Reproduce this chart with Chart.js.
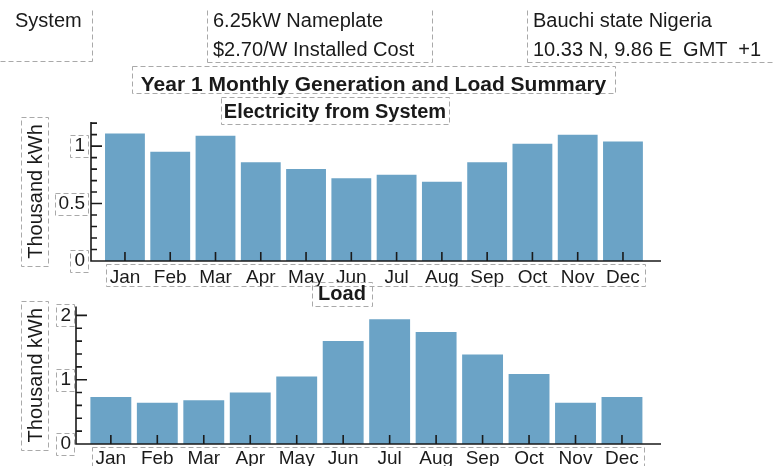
<!DOCTYPE html>
<html>
<head>
<meta charset="utf-8">
<script src="https://cdn.jsdelivr.net/npm/chart.js@4.4.0/dist/chart.umd.min.js"></script>
<style>
  body { margin: 0; background: #fff; }
  #page { position: relative; width: 775px; height: 466px; overflow: hidden;
          font-family: "Liberation Sans", Arial, sans-serif; color: #1a1a1a; }
  .t { position: absolute; white-space: pre; font-size: 20px; line-height: 20px; }
  .b { font-weight: bold; text-align: center; }
  canvas { position: absolute; left: 0; }
</style>
</head>
<body>
<div id="page">
  <canvas id="genChart" width="775" height="195" style="top:95px"></canvas>
  <canvas id="loadChart" width="775" height="176" style="top:290px"></canvas>
  <canvas id="frames" width="775" height="466" style="top:0"></canvas>

  <div class="t" style="left:15px; top:10px">System</div>
  <div class="t" style="left:213px; top:10px">6.25kW Nameplate</div>
  <div class="t" style="left:213px; top:39px">$2.70/W Installed Cost</div>
  <div class="t" style="left:533px; top:10px">Bauchi state Nigeria</div>
  <div class="t" style="left:533px; top:39px">10.33 N, 9.86 E  GMT  +1</div>
  <div class="t b" style="left:132px; width:483px; top:73px; font-size:21px; line-height:21px">Year 1 Monthly Generation and Load Summary</div>
  <div class="t b" style="left:221px; width:228px; top:101px">Electricity from System</div>
  <div class="t b" style="left:312px; width:60px; top:283px">Load</div>
</div>
<script>
// data (thousand kWh)
const months = ["Jan", "Feb", "Mar", "Apr", "May", "Jun", "Jul", "Aug", "Sep", "Oct", "Nov", "Dec"];
const generation = [1.11, 0.95, 1.09, 0.86, 0.80, 0.72, 0.75, 0.69, 0.86, 1.02, 1.10, 1.04];
const load = [0.73, 0.64, 0.68, 0.80, 1.05, 1.60, 1.94, 1.74, 1.39, 1.09, 0.64, 0.73];
const genTicks = [0, 0.5, 1];
const loadTicks = [0, 1, 2];

const FONT = '"Liberation Sans", Arial, sans-serif';
const BAR = '#6ba3c6';
const INK = '#1a1a1a';
const DASH = '#a9a9a9';

Chart.defaults.font.family = FONT;
Chart.defaults.color = INK;

// axis lines, inward tick marks and the dashed label frames
const axisDeco = {
  id: 'axisDeco',
  afterDraw(chart, args, o) {
    const ctx = chart.ctx;
    const a = chart.chartArea;
    const x = chart.scales.x, y = chart.scales.y;
    ctx.save();
    ctx.strokeStyle = INK;
    ctx.lineWidth = 1.6;
    ctx.beginPath();
    ctx.moveTo(a.left, y.getPixelForValue(y.max));
    ctx.lineTo(a.left, a.bottom);
    ctx.lineTo(a.right, a.bottom);
    for (let v = 0; v <= o.minorMax + 1e-9; v += o.minorStep) {
      const py = y.getPixelForValue(v);
      const major = o.majors.some(m => Math.abs(m - v) < 1e-6);
      ctx.moveTo(a.left, py);
      ctx.lineTo(a.left + (major ? 11 : 6), py);
    }
    months.forEach((m, i) => {
      const px = x.getPixelForValue(i);
      ctx.moveTo(px, a.bottom);
      ctx.lineTo(px, a.bottom - 9);
    });
    ctx.stroke();

    ctx.setLineDash([5, 3]);
    ctx.strokeStyle = DASH;
    ctx.lineWidth = 1;
    ctx.font = '19px ' + FONT;
    y.ticks.forEach(t => {
      const w = ctx.measureText(String(t.value)).width;
      const py = y.getPixelForValue(t.value);
      const r = a.left - o.yPad;
      ctx.strokeRect(Math.round(r - w - 4) + 0.5, Math.round(py - 11) + 0.5, Math.round(w + 7), 22);
    });
    const wJan = ctx.measureText(months[0]).width;
    const wDec = ctx.measureText(months[11]).width;
    const l = x.getPixelForValue(0) - wJan / 2 - 4;
    const r = x.getPixelForValue(11) + wDec / 2 + 5;
    ctx.strokeRect(Math.round(l) + 0.5, a.bottom + 3.5, Math.round(r - l), 22);
    ctx.font = '20px ' + FONT;
    const half = ctx.measureText('Thousand kWh').width / 2 + 7;
    const cy = (a.top + a.bottom) / 2;
    ctx.strokeRect(21.5, Math.round(cy - half) + 0.5, 27, Math.round(half * 2));
    ctx.restore();
  }
};

function makeChart(id, values, ticks, cfg) {
  return new Chart(id, {
    type: 'bar',
    data: {
      datasets: [{
        data: values.map((v, i) => ({x: i, y: v})),
        backgroundColor: BAR,
        borderWidth: 0,
        barPercentage: 0.88,
        categoryPercentage: 1
      }]
    },
    plugins: [axisDeco],
    options: {
      responsive: false,
      animation: false,
      layout: {padding: {top: cfg.top, right: 114, left: 0, bottom: 0}},
      plugins: {
        legend: {display: false},
        tooltip: {enabled: false},
        axisDeco: {minorStep: cfg.minorStep, minorMax: cfg.minorMax, majors: ticks, yPad: cfg.yPad}
      },
      scales: {
        x: {
          type: 'linear', min: -0.75, max: 11.84, offset: false,
          grid: {display: false, drawTicks: false}, border: {display: false},
          afterBuildTicks: s => { s.ticks = months.map((m, i) => ({value: i})); },
          afterFit: s => { s.height = cfg.xHeight; },
          ticks: {autoSkip: false, maxRotation: 0, padding: cfg.xPad, font: {size: 19},
                  callback: v => months[v]}
        },
        y: {
          min: 0, max: cfg.max,
          grid: {display: false, drawTicks: false}, border: {display: false},
          afterBuildTicks: s => { s.ticks = ticks.map(v => ({value: v})); },
          afterFit: s => { s.width = cfg.yWidth; },
          ticks: {padding: cfg.yPad, font: {size: 19}, callback: v => String(v)},
          title: {display: true, text: 'Thousand kWh', font: {size: 20}, padding: {top: 24, bottom: 0}}
        }
      }
    }
  });
}

makeChart('genChart', generation, genTicks,
  {top: 27, max: 1.21, minorStep: 0.1, minorMax: 1.2, xHeight: 29, xPad: 5, yWidth: 91, yPad: 6});
makeChart('loadChart', load, loadTicks,
  {top: 13, max: 2.14, minorStep: 0.2, minorMax: 2, xHeight: 22, xPad: 3, yWidth: 76, yPad: 5});

// dashed frames round the header and title texts
const f = document.getElementById('frames').getContext('2d');
f.setLineDash([5, 3]);
f.strokeStyle = DASH;
f.lineWidth = 1;
function seg(x1, y1, x2, y2) {
  f.beginPath(); f.moveTo(x1 + 0.5, y1 + 0.5); f.lineTo(x2 + 0.5, y2 + 0.5); f.stroke();
}
seg(92, 10, 92, 61); seg(0, 61, 92, 61);
seg(207, 10, 207, 62); seg(432, 10, 432, 62); seg(207, 62, 432, 62);
seg(527, 10, 527, 62); seg(527, 62, 775, 62);
f.strokeRect(132.5, 66.5, 483, 27);
f.strokeRect(221.5, 97.5, 228, 27);
f.strokeRect(312.5, 282.5, 60, 24);
</script>
</body>
</html>
